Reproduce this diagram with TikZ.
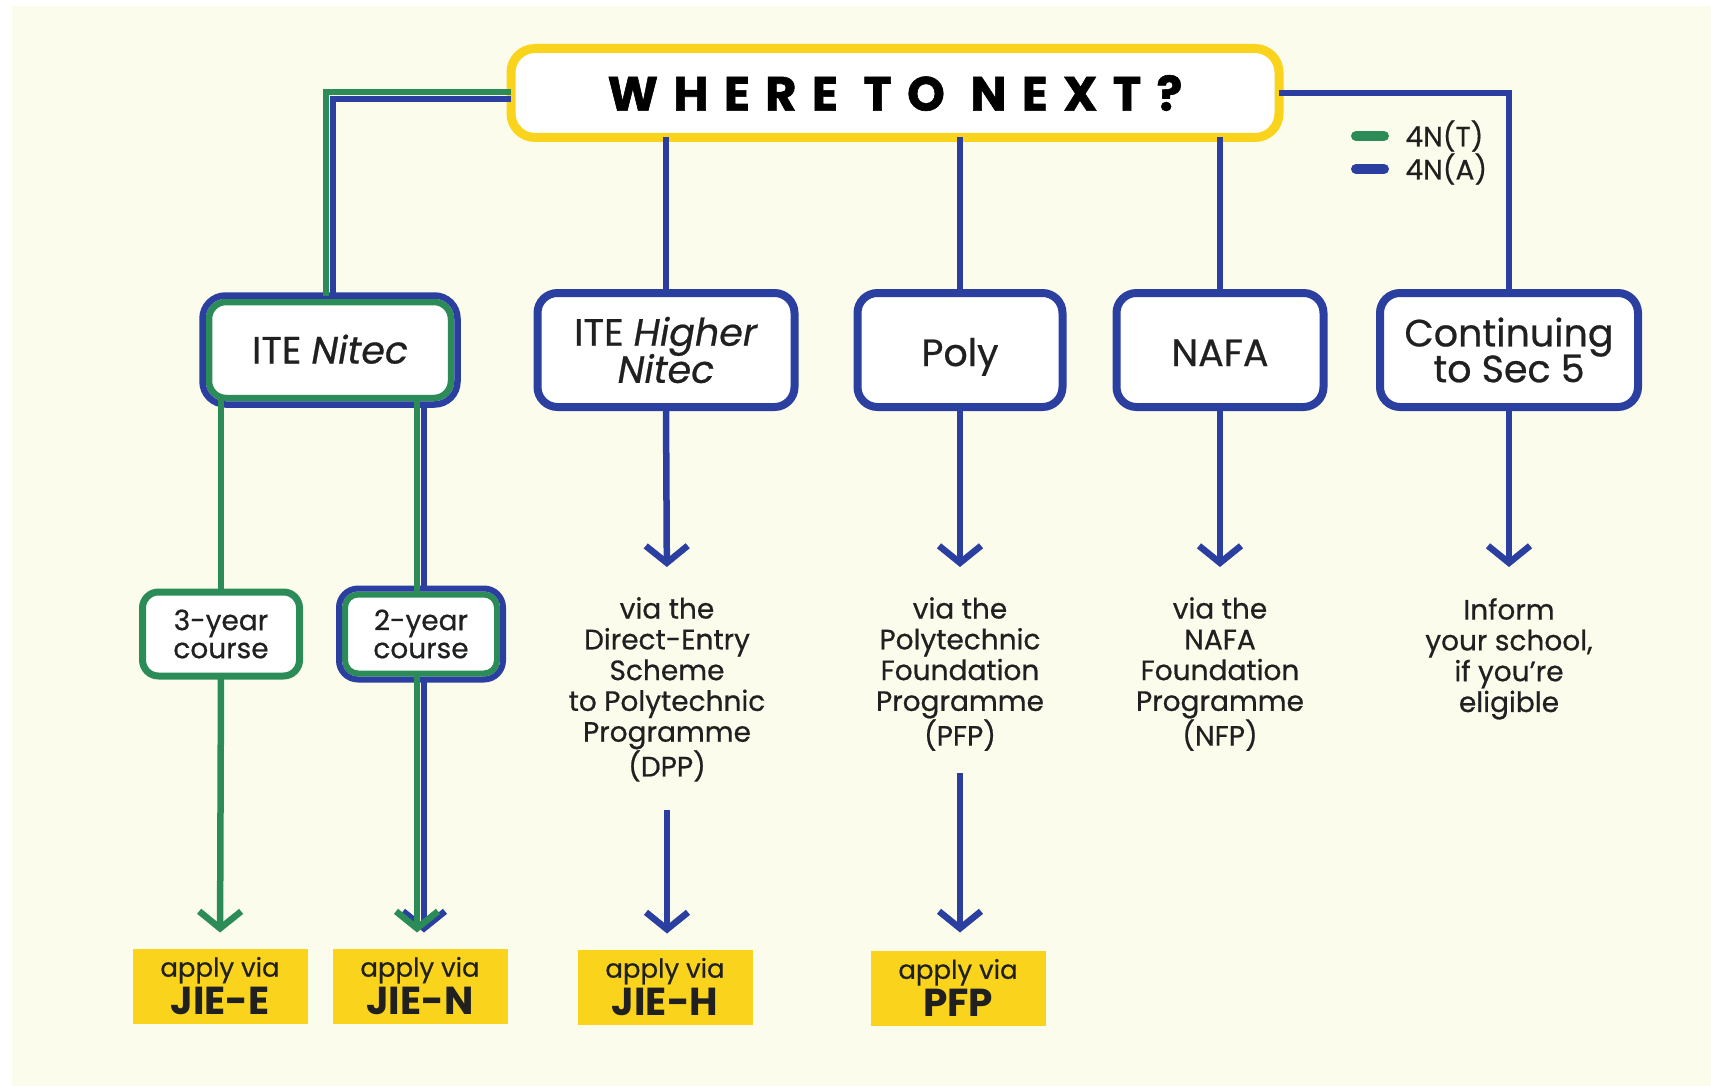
\documentclass[tikz,border=0pt]{standalone}
\usepackage{fontspec}
\setmainfont{Poppins}[UprightFeatures={FakeBold=0.6},ItalicFeatures={FakeBold=0.6}]
\newfontfamily\headfont[LetterSpace=32,FakeBold=1.2]{Poppins}
\usetikzlibrary{arrows.meta,calc}

\definecolor{tgreen}{RGB}{44,140,88}
\definecolor{tblue}{RGB}{43,63,160}
\definecolor{tyellow}{RGB}{250,212,28}
\definecolor{cream}{RGB}{252,252,236}
\definecolor{ink}{RGB}{32,32,32}

\begin{document}
\begin{tikzpicture}[x=1pt,y=-1pt,
  bigbox/.style={draw=tblue,line width=8pt,fill=white,rounded corners=20pt,
    outer sep=0pt,inner sep=0pt,align=center,text=ink,
    minimum height=114pt,font=\fontsize{38}{37}\selectfont},
  onerow/.style={text height=32pt,text depth=0pt},
  smallbox/.style={draw=tgreen,line width=7pt,fill=white,rounded corners=16pt,
    outer sep=0pt,inner sep=0pt,align=center,text=ink,
    minimum width=157pt,minimum height=84pt,font=\fontsize{28}{28}\selectfont},
  applybox/.style={fill=tyellow,minimum width=175pt,minimum height=75pt,
    inner sep=0pt,outer sep=0pt,align=center,text=ink},
  note/.style={align=center,text=ink,inner sep=0pt,anchor=north,
    font=\fontsize{28}{30.8}\selectfont},
  gline/.style={tgreen,line width=6.5pt},
  bline/.style={tblue,line width=6.5pt},
  barb/.style={-{Straight Barb[length=17pt,width=42pt]}}]

\fill[white] (0,0) rectangle (1711,1086);
\fill[cream] (12,6) rectangle (1711,1086);
\useasboundingbox (0,0) rectangle (1711,1086);

\node[draw=tyellow,line width=9pt,fill=white,rounded corners=24pt,
  minimum width=768pt,minimum height=89pt,outer sep=0pt] (title) at (895,93)
  {\headfont\bfseries\fontsize{48}{48}\selectfont WHERE TO NEXT?};

\node[bigbox,minimum width=257pt] (higher) at (666,350) {ITE \textit{Higher}\\[-3pt] \textit{Nitec}};
\node[bigbox,onerow,minimum width=205pt] (poly) at (960,350) {Poly};
\node[bigbox,onerow,minimum width=207pt] (nafa) at (1220,350) {NAFA};
\node[bigbox,minimum width=258pt] (secfive) at (1509,350) {Continuing\\[-3pt] to Sec 5};

\node[bigbox,line width=6.5pt,rounded corners=17pt,minimum width=242pt,minimum height=96pt,
  draw=tgreen,text height=27pt,text depth=0pt] (nitec) at (330,350) {ITE \textit{Nitec}};
\draw[tblue,line width=6.5pt,rounded corners=23pt]
  ($(nitec.north west)+(-6.5,-6.5)$) rectangle ($(nitec.south east)+(6.5,6.5)$);

\node[smallbox] (three) at (221,634) {3-year\\course};
\node[smallbox,line width=6pt,minimum width=152pt,minimum height=79pt,rounded corners=13pt] (two) at (421,634) {2-year\\course};
\draw[tblue,line width=6pt,rounded corners=19pt]
  ($(two.north west)+(-6,-6)$) rectangle ($(two.south east)+(6,6)$);

\node[applybox] (jiee) at (220,986) {\fontsize{26}{36}\selectfont apply via\\[3pt]\fontsize{39}{36}\selectfont\bfseries JIE-E};
\node[applybox] (jien) at (420,986) {\fontsize{26}{36}\selectfont apply via\\[3pt]\fontsize{39}{36}\selectfont\bfseries JIE-N};
\node[applybox] (jieh) at (665,987) {\fontsize{26}{36}\selectfont apply via\\[3pt]\fontsize{39}{36}\selectfont\bfseries JIE-H};
\node[applybox] (pfp) at (958,988) {\fontsize{26}{36}\selectfont apply via\\[3pt]\fontsize{39}{36}\selectfont\bfseries PFP};

\node[note] (dpptext) at (667,597) {via the\\Direct-Entry\\Scheme\\to Polytechnic\\Programme\\(DPP)};
\node[note] (pfptext) at (960,597) {via the\\Polytechnic\\Foundation\\Programme\\(PFP)};
\node[note] (nfptext) at (1220,597) {via the\\NAFA\\Foundation\\Programme\\(NFP)};
\node[note] (informtext) at (1509,598) {Inform\\your school,\\if you’re\\eligible};

\draw[gline] ($(title.west)+(0,-1)$) -| ($(nitec.north)+(-4,-6.5)$);
\draw[bline] ($(title.west)+(0,6)$) -| ($(nitec.north)+(3,-6.5)$);
\draw[bline] (title.east) -| (secfive.north);
\draw[bline] (title.south -| higher.north) -- (higher.north);
\draw[bline] (title.south -| poly.north) -- (poly.north);
\draw[bline] (title.south -| nafa.north) -- (nafa.north);

\draw[gline] (nitec.south -| three.north) -- (three.north);
\draw[gline] ($(nitec.south -| two.north)+(-4,0)$) -- ($(two.north)+(-4,0)$);
\draw[bline] ($(nitec.south -| two.north)+(3,6.5)$) -- ($(two.north)+(3,-6)$);

\draw[gline,barb,shorten >=16pt] (three.south) -- (jiee.north);
\draw[bline,barb,shorten >=16pt] ($(two.south)+(3,6)$) -- ($(two.south|-jien.north)+(3,0)$);
\draw[gline,barb,shorten >=16pt] ($(two.south)+(-4,0)$) -- ($(two.south|-jien.north)+(-4,0)$);

\draw[bline,barb,shorten >=30pt] (higher.south) -- (dpptext.north);
\draw[bline,barb,shorten >=30pt] (poly.south) -- (pfptext.north);
\draw[bline,barb,shorten >=30pt] (nafa.south) -- (nfptext.north);
\draw[bline,barb,shorten >=31pt] (secfive.south) -- (informtext.north);

\draw[bline,barb,shorten <=28pt,shorten >=16pt] (dpptext.south) -- (dpptext.south|-jieh.north);
\draw[bline,barb,shorten <=22pt,shorten >=18pt] (pfptext.south) -- (pfptext.south|-pfp.north);

\draw[tgreen,line width=10pt,line cap=round] (1356,136) coordinate (gkey) -- (1384,136);
\draw[tblue,line width=10pt,line cap=round] (1356,169) coordinate (bkey) -- (1384,169);
\node[anchor=west,text=ink,font=\fontsize{28}{28}\selectfont] (tkey) at (1402,136) {4N(T)};
\node[anchor=west,text=ink,font=\fontsize{28}{28}\selectfont] (akey) at (1402,169) {4N(A)};
\end{tikzpicture}
\end{document}
